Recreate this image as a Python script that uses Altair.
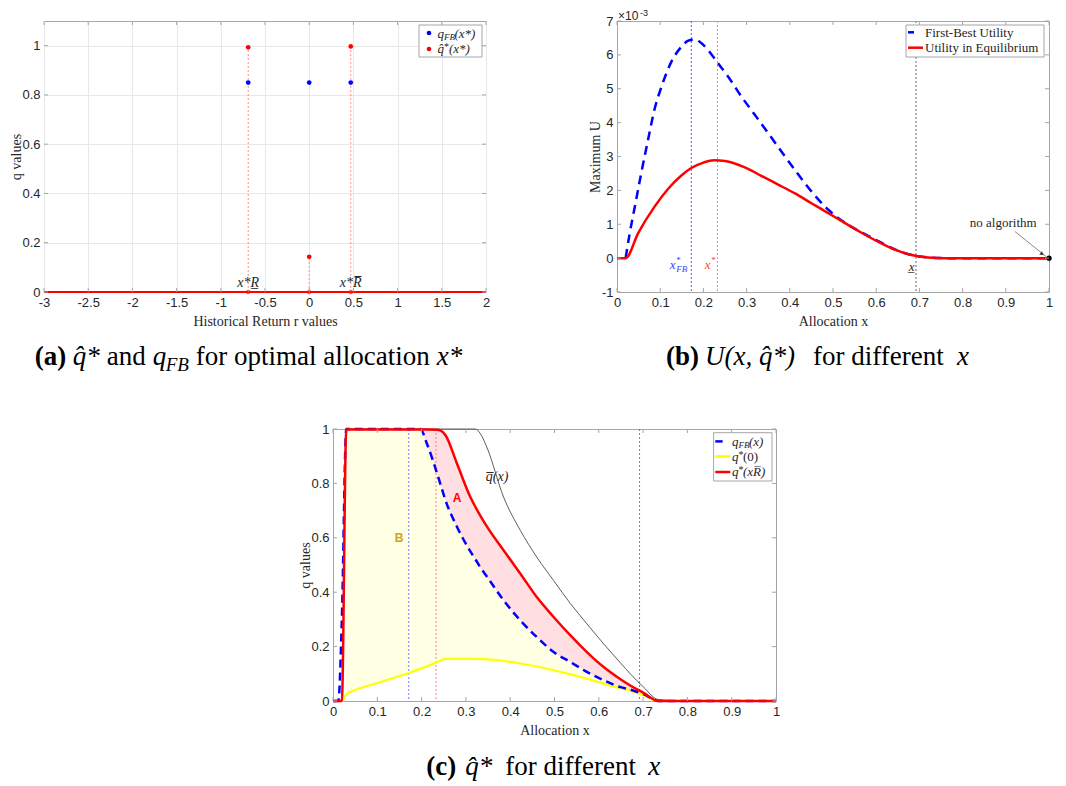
import altair as alt
import pandas as pd

SERIF = "Liberation Serif"
SANS = "Liberation Sans"
DARK = "#262626"
BOX = "#a6a6a6"
GRID = "#e8e8e8"
BLUE = "#0000ff"
RED = "#ff0000"
YELLOW = "#ffff00"

# ---------------- Panel (a) data ----------------
a_r = [-0.69, 0.0, 0.47]
a_q_fb = [0.85, 0.85, 0.85]
a_q_hat = [0.993, 0.143, 0.997]
a_zero = [0.0, 0.0, 0.0]
a_point_text = ["x*R\u0332", "", "x*R\u0305"]
a_line_r = [-3.0, 2.0]
a_line_q = [0.0, 0.0]
a_xticks = [-3, -2.5, -2, -1.5, -1, -0.5, 0, 0.5, 1, 1.5, 2]
a_yticks = [0, 0.2, 0.4, 0.6, 0.8, 1]

# ---------------- Panel (b) data (utility in units of 1e-3) ----------------
b_fb_x = [0.02, 0.029, 0.041, 0.056, 0.072, 0.087, 0.103, 0.126, 0.149, 0.165,
          0.18, 0.195, 0.211, 0.234, 0.257, 0.288, 0.319, 0.35, 0.381, 0.412,
          0.45, 0.489, 0.527, 0.566, 0.605, 0.643, 0.682, 0.72, 0.759, 1.0]
b_fb_u = [0.0, 0.7, 1.5, 2.5, 3.5, 4.4, 5.06, 5.8, 6.24, 6.42,
          6.46, 6.35, 6.14, 5.75, 5.36, 4.77, 4.23, 3.69, 3.14, 2.6,
          1.97, 1.43, 1.05, 0.76, 0.5, 0.26, 0.09, 0.02, 0.0, 0.0]
b_eq_x = [0.0, 0.02, 0.049, 0.087, 0.118, 0.149, 0.172, 0.2, 0.225, 0.25,
          0.296, 0.334, 0.373, 0.412, 0.45, 0.489, 0.527, 0.566, 0.605, 0.643,
          0.682, 0.72, 0.759, 1.0]
b_eq_u = [0.0, 0.0, 0.74, 1.52, 2.04, 2.44, 2.66, 2.82, 2.89, 2.87,
          2.68, 2.43, 2.17, 1.91, 1.62, 1.33, 1.04, 0.75, 0.48, 0.25,
          0.09, 0.02, 0.0, 0.0]
b_vline_x = [0.172, 0.2325, 0.692]
b_vline_color = ["#5a5aff", "#ff7f7f", "#a0a0a0"]
b_vline_width = [1.0, 1.0, 1.6]
b_arrow_x = [0.921, 0.993]
b_arrow_u = [0.787, 0.05]
b_dot_x = [1.0]
b_dot_u = [0.0]
b_xticks = [0, 0.1, 0.2, 0.3, 0.4, 0.5, 0.6, 0.7, 0.8, 0.9, 1]
b_yticks = [-1, 0, 1, 2, 3, 4, 5, 6, 7]

# ---------------- Panel (c) data ----------------
c_x = [0, 0.012, 0.02, 0.03, 0.04, 0.1, 0.171, 0.197, 0.212, 0.235,
       0.242, 0.254, 0.28, 0.31, 0.321, 0.333, 0.348, 0.385, 0.423, 0.46,
       0.498, 0.536, 0.573, 0.611, 0.649, 0.671, 0.701, 0.735, 0.8, 1.0]
c_q_xr = [0, 0, 0, 0.998, 0.998, 0.998, 0.998, 0.998, 0.998, 0.997,
          0.995, 0.977, 0.872, 0.75, 0.715, 0.68, 0.64, 0.554, 0.468, 0.382,
          0.309, 0.241, 0.18, 0.125, 0.08, 0.057, 0.03, 0, 0, 0]
c_q_fb = [0, 0, 0.3, 1.0, 1.0, 1.0, 1.0, 1.0, 0.946, 0.836,
          0.8, 0.7375, 0.64, 0.55, 0.522, 0.49, 0.456, 0.37, 0.296, 0.235,
          0.18, 0.143, 0.107, 0.076, 0.051, 0.042, 0.025, 0, 0, 0]
c_q0 = [0, 0, 0, 0.024, 0.033, 0.066, 0.103, 0.118, 0.127, 0.143,
        0.148, 0.155, 0.155, 0.155, 0.155, 0.154, 0.153, 0.147, 0.138, 0.127,
        0.113, 0.098, 0.082, 0.064, 0.047, 0.038, 0.021, 0, 0, 0]
c_q_bar = [0, 0, 0, 1, 1, 1, 1, 1, 1, 1,
           1, 1, 1, 1, 1, 0.982, 0.93, 0.75, 0.627, 0.529,
           0.443, 0.358, 0.284, 0.21, 0.14, 0.1, 0.051, 0.005, 0, 0]
c_vline_x = [0.171, 0.2325, 0.692]
c_vline_color = ["#7a7aff", "#ff8080", "#808080"]
c_xticks = [0, 0.1, 0.2, 0.3, 0.4, 0.5, 0.6, 0.7, 0.8, 0.9, 1]
c_yticks = [0, 0.2, 0.4, 0.6, 0.8, 1]

# ---------------- sizes ----------------
WA, HA = 442, 271
WB, HB = 432, 271
WC, HC = 443, 272
SPACER_W = 252
TOP = -12.5
INTERP = "monotone"

one = pd.DataFrame({"k": [0]})
LAB = "(datum.value < 0 ? '-' : '') + format(abs(datum.value), '')"


def x_axis(values, title, grid=False):
    return alt.Axis(values=values, title=title, grid=grid, gridColor=GRID, gridWidth=1,
                    ticks=False, domain=False, labelExpr=LAB, labelFont=SANS, labelFontSize=13,
                    labelColor=DARK, labelPadding=4, labelFlush=False, labelOverlap=False,
                    titleFont=SERIF, titleFontSize=14, titleFontWeight="normal",
                    titleColor=DARK, titlePadding=5)


def y_axis(values, title, ext, grid=False):
    return alt.Axis(values=values, title=title, grid=grid, gridColor=GRID, gridWidth=1,
                    ticks=False, domain=False, labelExpr=LAB, labelFont=SANS, labelFontSize=13,
                    labelColor=DARK, labelPadding=4, labelFlush=False, labelOverlap=False,
                    minExtent=ext, maxExtent=ext,
                    titleFont=SERIF, titleFontSize=14, titleFontWeight="normal",
                    titleColor=DARK, titlePadding=0)


class Panel:
    """Holds the shared scales and axes of one panel so that every layer repeats them."""

    def __init__(self, xs, ys, xa, ya):
        self.xs, self.ys, self.xa, self.ya = xs, ys, xa, ya

    def X(self, f):
        return alt.X(f, scale=self.xs, axis=self.xa)

    def Y(self, f):
        return alt.Y(f, scale=self.ys, axis=self.ya)


def box_ticks(P, xs, ys, W, H, L=4):
    dx = pd.DataFrame({"t": xs})
    dy = pd.DataFrame({"t": ys})
    m = dict(color=BOX, strokeWidth=1)
    return [
        alt.Chart(dx).mark_rule(**m).encode(x=P.X("t:Q"), y=alt.value(H), y2=alt.value(H - L)),
        alt.Chart(dx).mark_rule(**m).encode(x=P.X("t:Q"), y=alt.value(0), y2=alt.value(L)),
        alt.Chart(dy).mark_rule(**m).encode(y=P.Y("t:Q"), x=alt.value(0), x2=alt.value(L)),
        alt.Chart(dy).mark_rule(**m).encode(y=P.Y("t:Q"), x=alt.value(W), x2=alt.value(W - L)),
    ]


def ptext(s, x, y, size=13, font=SERIF, style="normal", weight="normal", color=DARK,
          align="left", baseline="alphabetic"):
    return alt.Chart(one).mark_text(text=s, fontSize=size, font=font, fontStyle=style,
                                    fontWeight=weight, color=color, align=align,
                                    baseline=baseline).encode(x=alt.value(x), y=alt.value(y))


def dtext(P, s, x, y, size=13, font=SERIF, style="normal", weight="normal", color=DARK,
          align="left", baseline="middle", dx=0, dy=0):
    d = pd.DataFrame({"x": [x], "y": [y]})
    return alt.Chart(d).mark_text(text=s, fontSize=size, font=font, fontStyle=style,
                                  fontWeight=weight, color=color, align=align,
                                  baseline=baseline, dx=dx, dy=dy).encode(
        x=P.X("x:Q"), y=P.Y("y:Q"))


def hrule(x1, x2, y, color, width=2.5):
    return alt.Chart(one).mark_rule(color=color, strokeWidth=width).encode(
        x=alt.value(x1), x2=alt.value(x2), y=alt.value(y))


def leg_box(x1, x2, y1, y2):
    return alt.Chart(one).mark_rect(fill="white", stroke=BOX, strokeWidth=1).encode(
        x=alt.value(x1), x2=alt.value(x2), y=alt.value(y1), y2=alt.value(y2))


def hidden_top(y):
    return alt.Chart(one).mark_rule(strokeOpacity=0).encode(
        x=alt.value(0), x2=alt.value(1), y=alt.value(y))


def caption(pieces, y):
    out = []
    for s, x, kind in pieces:
        if kind == "b":
            out.append(ptext(s, x, y, size=27, weight="bold", color="black"))
        elif kind == "i":
            out.append(ptext(s, x, y, size=27, style="italic", color="black"))
        elif kind == "sub":
            out.append(ptext(s, x, y + 6, size=19, style="italic", color="black"))
        else:
            out.append(ptext(s, x, y, size=27, color="black"))
    return out


# =============== Panel (a) ===============
PA = Panel(alt.Scale(domain=[-3, 2], nice=False, zero=False),
           alt.Scale(domain=[0, 1.1], nice=False, zero=False),
           x_axis(a_xticks, "Historical Return r values", grid=True),
           y_axis(a_yticks, "q values", 21, grid=True))
dfa = pd.DataFrame({"r": a_r, "q_fb": a_q_fb, "q_hat": a_q_hat, "base": a_zero, "lab": a_point_text})
dfa_line = pd.DataFrame({"r": a_line_r, "q": a_line_q})

a_layers = [
    alt.Chart(dfa_line).mark_line(color=RED, strokeWidth=2).encode(x=PA.X("r:Q"), y=PA.Y("q:Q")),
    alt.Chart(dfa).mark_rule(color="#ff7070", strokeDash=[2, 2], strokeWidth=0.8).encode(
        x=PA.X("r:Q"), y=PA.Y("base:Q"), y2="q_hat:Q"),
    alt.Chart(dfa).mark_point(shape="circle", filled=False, color=RED, size=14, strokeWidth=1).encode(
        x=PA.X("r:Q"), y=PA.Y("base:Q")),
    alt.Chart(dfa).mark_circle(color=BLUE, size=22, opacity=1).encode(x=PA.X("r:Q"), y=PA.Y("q_fb:Q")),
    alt.Chart(dfa).mark_circle(color=RED, size=22, opacity=1).encode(x=PA.X("r:Q"), y=PA.Y("q_hat:Q")),
    alt.Chart(dfa).mark_text(font=SERIF, fontStyle="italic", fontSize=14, color=DARK,
                             baseline="alphabetic", dy=-5).encode(
        x=PA.X("r:Q"), y=PA.Y("base:Q"), text="lab:N"),
] + box_ticks(PA, a_xticks, a_yticks, WA, HA) + [
    leg_box(375, 438, 4, 36),
    alt.Chart(one).mark_circle(color=BLUE, size=22, opacity=1).encode(x=alt.value(385), y=alt.value(12)),
    alt.Chart(one).mark_circle(color=RED, size=22, opacity=1).encode(x=alt.value(385), y=alt.value(28)),
    ptext("q", 393.5, 16.5, style="italic"),
    ptext("FB", 400, 19, size=9, style="italic"),
    ptext("(x*)", 410.5, 16.5, style="italic"),
    ptext("q\u0302", 393.5, 32, style="italic"),
    ptext("*", 400, 29, size=10),
    ptext("(x*)", 405, 32, style="italic"),
    hidden_top(TOP),
] + caption([("(a)", -9.3, "b"), ("q\u0302*", 28.7, "i"), ("and", 62.7, "n"),
             ("q", 108.7, "i"), ("FB", 121.7, "sub"), ("for optimal allocation", 151.7, "n"),
             ("x*", 392.7, "i")], 343.5)
panel_a = alt.layer(*a_layers).properties(
    width=WA, height=HA, view=alt.ViewBackground(stroke=BOX, strokeWidth=1))

# =============== Panel (b) ===============
PB = Panel(alt.Scale(domain=[0, 1], nice=False, zero=False),
           alt.Scale(domain=[-1, 7], nice=False, zero=False),
           x_axis(b_xticks, "Allocation x"),
           y_axis(b_yticks, "Maximum U", 15))
dfb_fb = pd.DataFrame({"x": b_fb_x, "u": b_fb_u})
dfb_eq = pd.DataFrame({"x": b_eq_x, "u": b_eq_u})
dfb_v = pd.DataFrame({"x": b_vline_x, "c": b_vline_color, "w": b_vline_width})
dfb_arrow = pd.DataFrame({"x": b_arrow_x, "u": b_arrow_u})
dfb_dot = pd.DataFrame({"x": b_dot_x, "u": b_dot_u})

b_layers = [
    alt.Chart(dfb_v).mark_rule(strokeDash=[2, 2]).encode(
        x=PB.X("x:Q"), color=alt.Color("c:N", scale=None),
        strokeWidth=alt.StrokeWidth("w:Q", scale=None)),
    alt.Chart(dfb_fb).mark_line(color=BLUE, strokeWidth=2.5, strokeDash=[9, 6],
                                interpolate=INTERP).encode(x=PB.X("x:Q"), y=PB.Y("u:Q")),
    alt.Chart(dfb_eq).mark_line(color=RED, strokeWidth=2.5, interpolate=INTERP).encode(
        x=PB.X("x:Q"), y=PB.Y("u:Q")),
    alt.Chart(dfb_arrow).mark_line(color="#555555", strokeWidth=0.7).encode(x=PB.X("x:Q"), y=PB.Y("u:Q")),
    alt.Chart(dfb_dot).mark_circle(color="black", size=28, opacity=1).encode(x=PB.X("x:Q"), y=PB.Y("u:Q")),
    alt.Chart(pd.DataFrame({"x": [0.984], "u": [0.12]})).mark_point(
        shape="triangle-up", filled=True, size=18, angle=129, color="#333333", opacity=1).encode(
        x=PB.X("x:Q"), y=PB.Y("u:Q")),
    dtext(PB, "no algorithm", 0.894, 1.035, align="center"),
    dtext(PB, "x", 0.122, -0.215, style="italic", color="#4040ff"),
    dtext(PB, "*", 0.122, -0.215, size=9, color="#4040ff", dx=6.5, dy=-5),
    dtext(PB, "FB", 0.122, -0.215, size=9, style="italic", color="#4040ff", dx=6.5, dy=4),
    dtext(PB, "x", 0.203, -0.215, style="italic", color="#ff4040"),
    dtext(PB, "*", 0.203, -0.215, size=9, color="#ff4040", dx=6.5, dy=-5),
    dtext(PB, "x\u0332", 0.682, -0.25, style="italic", align="center"),
] + box_ticks(PB, b_xticks, b_yticks, WB, HB) + [
    ptext("\u00d710", 1, -1.5, size=12, font=SANS),
    ptext("-3", 23, -5.5, size=9, font=SANS),
    leg_box(289, 427, 4, 36),
    hrule(291, 297, 11.3, BLUE),
    hrule(291, 306, 26.7, RED),
    ptext("First-Best Utility", 308, 15.5),
    ptext("Utility in Equilibrium", 308, 31),
    hidden_top(TOP),
] + caption([("(b)", 49, "b"), ("U(x, q\u0302*)", 88, "i"), ("for different", 196, "n"),
             ("x", 340, "i")], 343.5)
panel_b = alt.layer(*b_layers).properties(
    width=WB, height=HB, view=alt.ViewBackground(stroke=BOX, strokeWidth=1))

# =============== Panel (c) ===============
PC = Panel(alt.Scale(domain=[0, 1], nice=False, zero=False),
           alt.Scale(domain=[0, 1], nice=False, zero=False),
           x_axis(c_xticks, "Allocation x"),
           y_axis(c_yticks, "q values", 21))
dfc = pd.DataFrame({"x": c_x, "q_xr": c_q_xr, "q_fb": c_q_fb, "q0": c_q0, "q_bar": c_q_bar})
dfc_v = pd.DataFrame({"x": c_vline_x, "c": c_vline_color})

c_layers = [
    alt.Chart(dfc).transform_filter("datum.x >= 0.03 && datum.x <= 0.735").mark_area(
        color="#ffffe3", opacity=1, interpolate=INTERP).encode(
        x=PC.X("x:Q"), y=PC.Y("q0:Q"), y2="q_fb:Q"),
    alt.Chart(dfc).transform_filter("datum.x >= 0.197 && datum.x <= 0.735").mark_area(
        color="#ffdfe1", opacity=1, interpolate=INTERP).encode(
        x=PC.X("x:Q"), y=PC.Y("q_fb:Q"), y2="q_xr:Q"),
    alt.Chart(dfc_v).mark_rule(strokeDash=[2, 2], strokeWidth=1).encode(
        x=PC.X("x:Q"), color=alt.Color("c:N", scale=None)),
    alt.Chart(dfc).mark_line(color=YELLOW, strokeWidth=2.2, interpolate=INTERP).encode(
        x=PC.X("x:Q"), y=PC.Y("q0:Q")),
    alt.Chart(dfc).mark_line(color="#333333", strokeWidth=0.8, interpolate=INTERP).encode(
        x=PC.X("x:Q"), y=PC.Y("q_bar:Q")),
    alt.Chart(dfc).mark_line(color=BLUE, strokeWidth=2.5, strokeDash=[8, 5], interpolate=INTERP).encode(
        x=PC.X("x:Q"), y=PC.Y("q_fb:Q")),
    alt.Chart(dfc).mark_line(color=RED, strokeWidth=2.5, interpolate=INTERP).encode(
        x=PC.X("x:Q"), y=PC.Y("q_xr:Q")),
    dtext(PC, "A", 0.28, 0.748, size=12, font=SANS, weight="bold", color=RED, align="center"),
    dtext(PC, "B", 0.149, 0.6, size=12, font=SANS, weight="bold", color="#d4a020", align="center"),
    dtext(PC, "q\u0305(x)", 0.345, 0.825, size=14, style="italic"),
] + box_ticks(PC, c_xticks, c_yticks, WC, HC) + [
    leg_box(380.6, 439, 3.7, 52),
    hrule(382.3, 389.6, 12.4, BLUE),
    hrule(382.3, 397.3, 27.4, YELLOW),
    hrule(382.3, 397.3, 43, RED),
    ptext("q", 399, 16.5, style="italic"),
    ptext("FB", 405.5, 19, size=9, style="italic"),
    ptext("(x)", 416, 16.5, style="italic"),
    ptext("q", 399, 31.5, style="italic"),
    ptext("*", 405.5, 28.5, size=10),
    ptext("(0)", 410, 31.5),
    ptext("q", 399, 47, style="italic"),
    ptext("*", 405.5, 44, size=10),
    ptext("(xR\u0305)", 410, 47, style="italic"),
] + caption([("(c)", 93.3, "b"), ("q\u0302*", 132.3, "i"), ("for different", 172.3, "n"),
             ("x", 315.3, "i")], 346)
panel_c = alt.layer(*c_layers).properties(
    width=WC, height=HC, view=alt.ViewBackground(stroke=BOX, strokeWidth=1))

spacer = alt.Chart(one).mark_rule(strokeOpacity=0).encode(
    x=alt.value(0), x2=alt.value(SPACER_W), y=alt.value(0)).properties(
    width=SPACER_W, height=10, view=alt.ViewBackground(stroke="transparent"))

top = alt.hconcat(panel_a, panel_b, spacing=96)
bottom = alt.hconcat(spacer, panel_c, spacing=0)
chart = alt.vconcat(top, bottom, spacing=47).properties(padding=0).configure_view(
    stroke="transparent")

chart.save("out.html", embed_options={"renderer": "svg", "actions": False})
